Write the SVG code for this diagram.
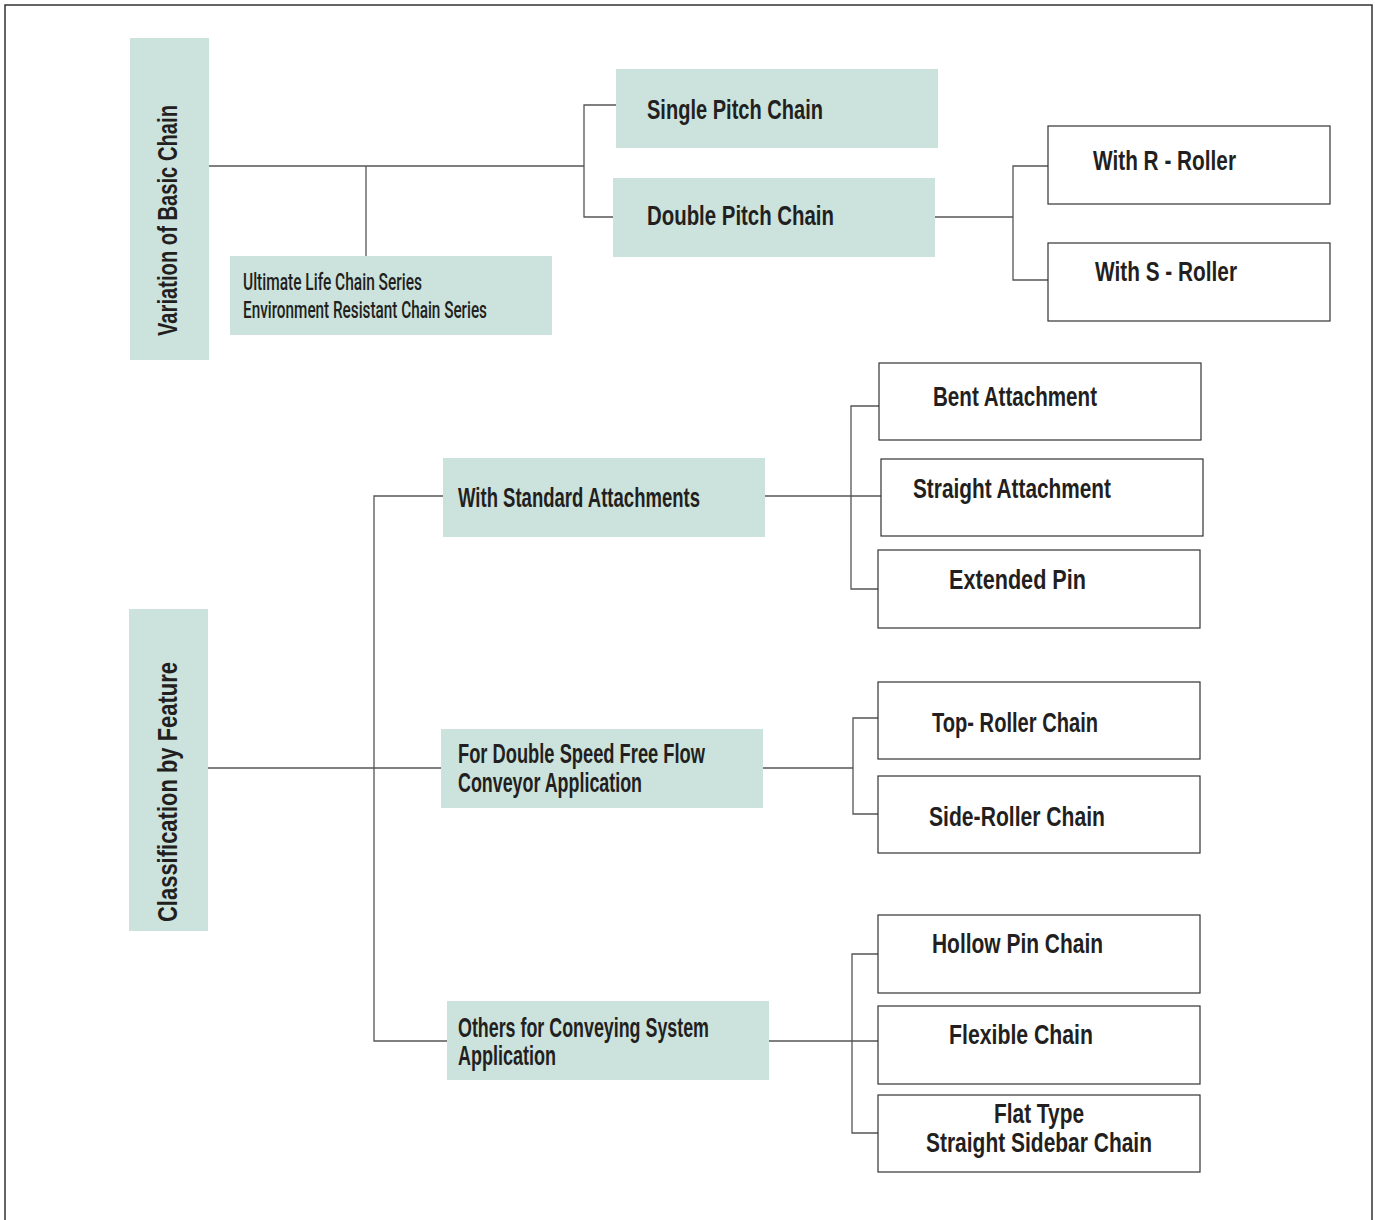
<svg xmlns="http://www.w3.org/2000/svg" width="1375" height="1220" viewBox="0 0 1375 1220">
<style>
.fill{fill:#cbe3dc;}
.box{fill:#ffffff;stroke:#333333;stroke-width:1.2;}
.t{font-family:"Liberation Sans",Arial,sans-serif;font-weight:bold;font-size:27px;fill:#231f20;}
.ts{font-family:Roboto,"Liberation Sans",sans-serif;font-weight:500;font-size:24px;fill:#231f20;}
.c{fill:none;stroke:#555555;stroke-width:1.3;}
.frame{fill:none;stroke:#333333;stroke-width:1.5;}
</style>
<rect width="1375" height="1220" fill="#ffffff"/>
<path class="frame" d="M5,1220 V5 H1372 V1220"/>

<g id="connectors">
<path class="c" d="M209,166 H584"/>
<path class="c" d="M366,166 V256"/>
<path class="c" d="M616,105 H584 V217 H613"/>
<path class="c" d="M935,217 H1013"/>
<path class="c" d="M1048,166 H1013 V280 H1048"/>
<path class="c" d="M208,768 H441"/>
<path class="c" d="M443,496 H374 V1041 H447"/>
<path class="c" d="M765,496 H881"/>
<path class="c" d="M879,406 H851 V589 H878"/>
<path class="c" d="M763,768 H853"/>
<path class="c" d="M878,718 H853 V814 H878"/>
<path class="c" d="M769,1041 H878"/>
<path class="c" d="M878,954 H852 V1133 H878"/>
</g>

<g id="variation">
<rect class="fill" x="130" y="38" width="79" height="322"/>
<text class="t" transform="translate(177,336) rotate(-90)" textLength="231" lengthAdjust="spacingAndGlyphs">Variation of Basic Chain</text>
</g>
<g id="ultimate">
<rect class="fill" x="230" y="256" width="322" height="79"/>
<text class="ts" x="243" y="290" textLength="179" lengthAdjust="spacingAndGlyphs">Ultimate Life Chain Series</text>
<text class="ts" x="243" y="318" textLength="244" lengthAdjust="spacingAndGlyphs">Environment Resistant Chain Series</text>
</g>
<g id="single-pitch">
<rect class="fill" x="616" y="69" width="322" height="79"/>
<text class="t" x="647" y="119" textLength="176" lengthAdjust="spacingAndGlyphs">Single Pitch Chain</text>
</g>
<g id="double-pitch">
<rect class="fill" x="613" y="178" width="322" height="79"/>
<text class="t" x="647" y="225" textLength="187" lengthAdjust="spacingAndGlyphs">Double Pitch Chain</text>
</g>
<g id="r-roller">
<rect class="box" x="1048" y="126" width="282" height="78"/>
<text class="t" x="1093" y="170" textLength="143" lengthAdjust="spacingAndGlyphs">With R - Roller</text>
</g>
<g id="s-roller">
<rect class="box" x="1048" y="243" width="282" height="78"/>
<text class="t" x="1095" y="281" textLength="142" lengthAdjust="spacingAndGlyphs">With S - Roller</text>
</g>

<g id="classification">
<rect class="fill" x="129" y="609" width="79" height="322"/>
<text class="t" transform="translate(177,922) rotate(-90)" textLength="260" lengthAdjust="spacingAndGlyphs">Classification by Feature</text>
</g>
<g id="standard-attachments">
<rect class="fill" x="443" y="458" width="322" height="79"/>
<text class="t" x="458" y="507" textLength="242" lengthAdjust="spacingAndGlyphs">With Standard Attachments</text>
</g>
<g id="double-speed">
<rect class="fill" x="441" y="729" width="322" height="79"/>
<text class="t" x="458" y="763" textLength="247" lengthAdjust="spacingAndGlyphs">For Double Speed Free Flow</text>
<text class="t" x="458" y="792" textLength="184" lengthAdjust="spacingAndGlyphs">Conveyor Application</text>
</g>
<g id="others">
<rect class="fill" x="447" y="1001" width="322" height="79"/>
<text class="t" x="458" y="1037" textLength="251" lengthAdjust="spacingAndGlyphs">Others for Conveying System</text>
<text class="t" x="458" y="1065" textLength="98" lengthAdjust="spacingAndGlyphs">Application</text>
</g>

<g id="bent">
<rect class="box" x="879" y="363" width="322" height="77"/>
<text class="t" x="933" y="406" textLength="164" lengthAdjust="spacingAndGlyphs">Bent Attachment</text>
</g>
<g id="straight">
<rect class="box" x="881" y="459" width="322" height="77"/>
<text class="t" x="913" y="498" textLength="198" lengthAdjust="spacingAndGlyphs">Straight Attachment</text>
</g>
<g id="extended-pin">
<rect class="box" x="878" y="550" width="322" height="78"/>
<text class="t" x="949" y="589" textLength="137" lengthAdjust="spacingAndGlyphs">Extended Pin</text>
</g>
<g id="top-roller">
<rect class="box" x="878" y="682" width="322" height="77"/>
<text class="t" x="932" y="732" textLength="166" lengthAdjust="spacingAndGlyphs">Top- Roller Chain</text>
</g>
<g id="side-roller">
<rect class="box" x="878" y="776" width="322" height="77"/>
<text class="t" x="929" y="826" textLength="176" lengthAdjust="spacingAndGlyphs">Side-Roller Chain</text>
</g>
<g id="hollow-pin">
<rect class="box" x="878" y="915" width="322" height="78"/>
<text class="t" x="932" y="953" textLength="171" lengthAdjust="spacingAndGlyphs">Hollow Pin Chain</text>
</g>
<g id="flexible">
<rect class="box" x="878" y="1006" width="322" height="78"/>
<text class="t" x="949" y="1044" textLength="144" lengthAdjust="spacingAndGlyphs">Flexible Chain</text>
</g>
<g id="flat-type">
<rect class="box" x="878" y="1095" width="322" height="77"/>
<text class="t" x="994" y="1123" textLength="90" lengthAdjust="spacingAndGlyphs">Flat Type</text>
<text class="t" x="926" y="1152" textLength="226" lengthAdjust="spacingAndGlyphs">Straight Sidebar Chain</text>
</g>
</svg>
